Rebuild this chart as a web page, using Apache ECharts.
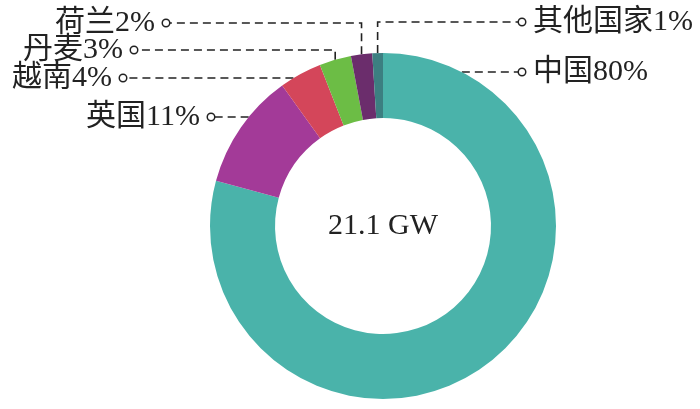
<!DOCTYPE html>
<html><head><meta charset="utf-8">
<script src="https://cdn.jsdelivr.net/npm/echarts@6/dist/echarts.min.js"></script>
<style>html,body{margin:0;padding:0;background:#fff}#c{width:700px;height:409px}</style>
</head><body><div id="c"></div>
<script>
// ---- data ----
const categories = ['中国', '英国', '越南', '丹麦', '荷兰', '其他国家'];
const shares = [80, 11, 4, 3, 2, 1];
const totalLabel = '21.1 GW';
const colors = ['#4AB3AA', '#A33A98', '#D4465A', '#6CBD45', '#6B2D6C', '#3C7F81'];

// ---- layout ----
const CX = 383, CY = 226, R0 = 108, R = 173;
const FONT = '"Liberation Serif","Times New Roman","Noto Sans CJK SC",serif';
const labelSpec = [
  {side: 'right', y: 72, dot: 522, elbow: false},
  {side: 'left', y: 117, dot: 211, elbow: false},
  {side: 'left', y: 78, dot: 123, elbow: false},
  {side: 'left', y: 50, dot: 134, elbow: true},
  {side: 'left', y: 23, dot: 166, elbow: true},
  {side: 'right', y: 22, dot: 522, elbow: true}
];
const DOT = 6;

function edgeX(y, side) {
  const dy = y - CY;
  const dx = Math.sqrt(Math.max(0, R * R - dy * dy));
  return side === 'left' ? CX - dx : CX + dx;
}

const chart = echarts.init(document.getElementById('c'), null, {renderer: 'canvas'});
chart.setOption({
  backgroundColor: '#fff',
  animation: false,
  graphic: [{
    type: 'text', x: CX, y: CY,
    style: {text: totalLabel, font: '30px ' + FONT, fill: '#222', textAlign: 'center', textVerticalAlign: 'middle'}
  }],
  series: [{
    type: 'pie',
    center: [CX, CY],
    radius: [R0, R],
    startAngle: 90,
    clockwise: true,
    avoidLabelOverlap: false,
    silent: true,
    data: categories.map((n, i) => ({name: n, value: shares[i], itemStyle: {color: colors[i]}})),
    label: {
      show: true,
      position: 'outside',
      formatter: p => {
        const s = labelSpec[p.dataIndex];
        const t = p.name + p.value + '%';
        return s.side === 'left' ? `{t|${t}}{g|}{d|}` : `{d|}{g|}{t|${t}}`;
      },
      rich: {
        t: {fontFamily: FONT, fontSize: 30, color: '#222'},
        g: {width: 8},
        d: {width: DOT, height: DOT, borderRadius: 4, borderColor: '#222', borderWidth: 1.5, backgroundColor: '#fff'}
      }
    },
    labelLine: {show: true, length: 10, length2: 10, lineStyle: {color: '#222', width: 1.6, type: [8, 5]}},
    labelLayout: function (params) {
      const s = labelSpec[params.dataIndex];
      const left = s.side === 'left';
      const endX = left ? s.dot + DOT / 2 + 0.8 : s.dot - DOT / 2 - 0.8;
      let pts;
      if (s.elbow) {
        const a = params.labelLinePoints[0];
        pts = [[a[0], a[1]], [a[0], s.y], [endX, s.y]];
      } else {
        pts = [[edgeX(s.y, s.side), s.y], [endX, s.y]];
      }
      return {
        x: left ? s.dot + DOT / 2 : s.dot - DOT / 2,
        y: s.y,
        align: left ? 'right' : 'left',
        verticalAlign: 'middle',
        labelLinePoints: pts
      };
    }
  }]
});
</script>
</body></html>
